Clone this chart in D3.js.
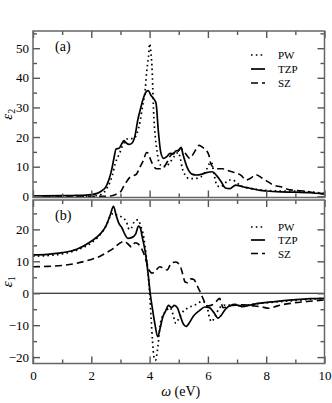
<!DOCTYPE html>
<html>
<head>
<meta charset="utf-8">
<script src="https://cdn.jsdelivr.net/npm/d3@7"></script>
<style>
  html, body { margin: 0; padding: 0; background: #fff; }
</style>
</head>
<body>
<div id="chart"></div>
<script>
// --- data: panel (a) eps2 ---
const pwA_w  = [0, 2.0, 2.3, 2.45, 2.55, 2.65, 2.72, 2.82, 2.97, 3.1, 3.25, 3.45, 3.56, 3.68, 3.75, 3.85, 3.9, 3.96, 4.0, 4.05, 4.09, 4.12, 4.15, 4.2, 4.26, 4.32, 4.45, 4.55, 4.7, 4.85, 4.98, 5.05, 5.12, 5.22, 5.35, 5.55, 5.75, 5.95, 6.05, 6.12, 6.22, 6.32, 6.45, 6.55, 6.72, 6.85, 7.0, 7.2, 7.5, 8.0, 8.5, 9.0, 9.5, 10];
const pwA_v  = [0, 0.1, 0.5, 1.5, 3, 5, 7, 11, 14.5, 17.7, 19.4, 19.5, 21, 25.6, 30, 36, 42, 47, 51.5, 48, 42, 33, 26, 19.5, 15, 11.5, 10, 10, 11.5, 13.5, 14.8, 13, 9.5, 7.2, 6, 6, 6.5, 9, 11, 11.5, 7, 3.5, 3.2, 4, 5.5, 5.5, 4.5, 3.2, 2.6, 2.0, 1.8, 1.8, 1.5, 1.0];

const tzpA_w = [0, 1, 1.5, 2.0, 2.2, 2.35, 2.5, 2.6, 2.7, 2.78, 2.85, 2.95, 3.05, 3.12, 3.2, 3.3, 3.4, 3.5, 3.6, 3.7, 3.8, 3.9, 3.95, 4.05, 4.15, 4.22, 4.3, 4.38, 4.48, 4.6, 4.7, 4.8, 4.9, 5.0, 5.08, 5.15, 5.3, 5.45, 5.6, 5.8, 5.95, 6.15, 6.3, 6.45, 6.6, 6.75, 6.95, 7.1, 7.3, 7.5, 7.8, 8.0, 8.5, 9.0, 9.5, 10];
const tzpA_v = [0.1, 0.2, 0.3, 0.6, 1.0, 1.8, 3.2, 5.5, 9, 13, 16, 16.2, 17.8, 18.8, 18, 17.5, 18, 20.5, 26, 30, 33.5, 35.5, 35.7, 34, 32.8, 31.5, 22, 15, 12.8, 13.5, 14.5, 14.3, 15.3, 15.5, 16.5, 14, 9.5, 7.5, 7.2, 7.5, 8, 8.3, 7, 5, 2.8, 2.6, 3.8, 3.5, 3.0, 2.6, 2.0, 1.8, 1.5, 1.4, 1.2, 0.8];

const szA_w  = [0, 2.5, 2.7, 2.85, 3.0, 3.1, 3.2, 3.33, 3.45, 3.55, 3.65, 3.78, 3.9, 3.95, 4.05, 4.15, 4.25, 4.38, 4.5, 4.6, 4.7, 4.8, 4.92, 5.05, 5.15, 5.28, 5.38, 5.48, 5.6, 5.7, 5.82, 5.95, 6.03, 6.1, 6.2, 6.35, 6.5, 6.65, 6.85, 7.0, 7.15, 7.3, 7.45, 7.65, 7.85, 8.0, 8.25, 8.5, 8.7, 9.0, 9.3, 9.6, 10];
const szA_v  = [0, 0, 0.2, 0.7, 1.5, 3.2, 4.8, 6.5, 7, 7.5, 9.5, 12, 14.8, 14.5, 12, 10, 9.3, 9.3, 10, 11.5, 13.5, 14.5, 14.5, 16.2, 15.5, 13.8, 12.8, 14, 16, 17.2, 16.5, 15.5, 14, 11, 9.7, 9.3, 9.3, 8.8, 8.2, 7.8, 7, 5.5, 6, 7.3, 6.2, 5.3, 3.8, 3.2, 2.5, 2.0, 1.8, 1.3, 0.8];

// --- data: panel (b) eps1 ---
const pwB_w  = [0, 0.5, 1.0, 1.5, 2.0, 2.3, 2.5, 2.65, 2.75, 2.87, 3.05, 3.2, 3.3, 3.38, 3.48, 3.6, 3.7, 3.8, 3.88, 3.94, 4.0, 4.05, 4.1, 4.15, 4.2, 4.28, 4.36, 4.45, 4.55, 4.7, 4.8, 4.9, 5.0, 5.1, 5.3, 5.55, 5.8, 5.95, 6.05, 6.12, 6.25, 6.4, 6.6, 6.9, 7.2, 7.5, 8.0, 8.5, 9.0, 9.5, 10];
const pwB_v  = [11.6, 11.8, 12.3, 13.5, 15.8, 18.3, 21, 24, 25, 24.5, 23.8, 22.5, 20, 20.5, 22.5, 23, 21, 17.5, 12, 7, 0, -7.5, -15, -20, -21, -17, -10, -7, -5.8, -4.5, -6.5, -9.4, -8, -6.3, -4.7, -3.7, -2.6, -3.5, -7.5, -8.9, -7.2, -4.5, -3.7, -3.7, -4.0, -3.5, -3.0, -2.6, -2.3, -1.9, -1.6];

const tzpB_w = [0, 0.5, 1.0, 1.5, 2.0, 2.3, 2.5, 2.65, 2.76, 2.85, 2.95, 3.05, 3.15, 3.25, 3.4, 3.52, 3.62, 3.68, 3.75, 3.85, 3.95, 4.02, 4.1, 4.18, 4.28, 4.36, 4.45, 4.55, 4.65, 4.75, 4.85, 4.95, 5.05, 5.15, 5.25, 5.38, 5.5, 5.7, 5.9, 6.05, 6.2, 6.35, 6.45, 6.6, 6.8, 7.0, 7.2, 7.4, 7.8, 8.3, 8.9, 9.5, 10];
const tzpB_v = [12.0, 12.2, 12.7, 13.8, 16.3, 18.5, 21, 24.5, 27.2, 24.5, 21.8, 20.5, 18.5, 17.2, 17.5, 18.5, 21, 20.5, 17.5, 13, 6, 0, -5, -9.5, -13.6, -11, -7.5, -5.5, -3.8, -4.5, -3.8, -4.5, -7, -9.5, -10.4, -9, -7.2, -5.5, -4.3, -4.5, -6, -7.8, -7, -5, -3.8, -3.7, -4.2, -3.8, -3.1, -2.6, -2.1, -1.7, -1.6];

const szB_w  = [0, 0.5, 1.0, 1.5, 2.0, 2.3, 2.5, 2.75, 3.0, 3.12, 3.25, 3.38, 3.5, 3.6, 3.72, 3.82, 3.92, 4.0, 4.08, 4.2, 4.35, 4.48, 4.6, 4.75, 4.9, 5.05, 5.12, 5.22, 5.3, 5.42, 5.52, 5.62, 5.73, 5.85, 5.97, 6.1, 6.25, 6.4, 6.52, 6.7, 6.9, 7.1, 7.35, 7.6, 7.8, 8.1, 8.3, 8.5, 8.9, 9.4, 10];
const szB_v  = [8.3, 8.4, 8.7, 9.4, 10.6, 11.6, 12.6, 14, 15.8, 16.3, 15.5, 14.5, 15.8, 15.5, 14, 12, 9, 7, 6.3, 7, 8.3, 7.8, 7.3, 9.5, 9.8, 8.5, 6.5, 3.5, 3.3, 4.5, 4.3, 2.6, 0.5, -2, -4, -3.8, -3, -1.6, -4.5, -4.2, -3.5, -3.6, -3.7, -4.0, -4.2, -4.7, -4.2, -3.7, -3.1, -2.6, -2.1];

const seriesNames = ["PW", "TZP", "SZ"];
const xTicksMajor = [0, 2, 4, 6, 8, 10];
const xTicksMinor = [1, 3, 5, 7, 9];
const yTicksA = [0, 10, 20, 30, 40, 50];
const yTicksAMinor = [5, 15, 25, 35, 45, 55];
const yTicksB = [-20, -10, 0, 10, 20];
const yTicksBMinor = [-15, -5, 5, 15, 25];

// --- setup ---
const W = 332, H = 403;
const left = 33, right = 324.5;
const serif = "'Liberation Serif', 'Times New Roman', Times, 'DejaVu Serif', serif";

const svg = d3.select("#chart").append("svg")
    .attr("width", W).attr("height", H)
    .style("font-family", serif);
svg.append("rect").attr("width", W).attr("height", H).attr("fill", "#fff");

const x = d3.scaleLinear().domain([0, 10]).range([left, right]);

const styles = {
    PW:  { dash: "1.6 3.2", width: 1.7 },
    TZP: { dash: null, width: 1.7 },
    SZ:  { dash: "7 4", width: 1.6 }
};

const zip = (ws, vs) => ws.map((w, i) => ({ w: w, v: vs[i] }));

function drawPanel(opts) {
    const y = d3.scaleLinear().domain(opts.domain).range([opts.bottom, opts.top]);
    const g = svg.append("g");

    g.append("clipPath").attr("id", "clip-" + opts.id)
        .append("rect")
        .attr("x", left).attr("y", opts.top)
        .attr("width", right - left).attr("height", opts.bottom - opts.top);

    if (opts.zeroLine) {
        g.append("line")
            .attr("x1", left).attr("x2", right)
            .attr("y1", y(0)).attr("y2", y(0))
            .attr("stroke", "#000").attr("stroke-width", 1);
    }

    const line = d3.line()
        .curve(d3.curveMonotoneX)
        .x(d => x(d.w))
        .y(d => y(d.v));

    opts.series.forEach((s, i) => {
        const st = styles[seriesNames[i]];
        g.append("path")
            .attr("clip-path", `url(#clip-${opts.id})`)
            .attr("d", line(s))
            .attr("fill", "none")
            .attr("stroke", "#000")
            .attr("stroke-width", st.width)
            .attr("stroke-dasharray", st.dash);
    });

    // axes with inward ticks
    const tickColor = "#555";
    function addAxis(axis, tx, ty) {
        const a = g.append("g").attr("transform", `translate(${tx},${ty})`).call(axis);
        a.select(".domain").remove();
        a.attr("font-family", serif).attr("font-size", 13);
        a.selectAll(".tick line").attr("stroke", tickColor).attr("stroke-width", 1.4);
        a.selectAll("text").style("font-family", serif).attr("font-size", 13);
        return a;
    }
    const fmt = d3.format("d");
    addAxis(d3.axisBottom(x).tickValues(xTicksMajor).tickSize(-7)
        .tickFormat(opts.xLabels ? fmt : ""), 0, opts.bottom)
        .selectAll("text").attr("dy", "1.0em");
    addAxis(d3.axisBottom(x).tickValues(xTicksMinor).tickSize(-4).tickFormat(""), 0, opts.bottom);
    addAxis(d3.axisTop(x).tickValues(xTicksMajor).tickSize(-7).tickFormat(""), 0, opts.top);
    addAxis(d3.axisTop(x).tickValues(xTicksMinor).tickSize(-4).tickFormat(""), 0, opts.top);
    addAxis(d3.axisLeft(y).tickValues(opts.yTicks).tickSize(-7).tickPadding(4).tickFormat(fmt), left, 0);
    addAxis(d3.axisLeft(y).tickValues(opts.yMinor).tickSize(-4).tickFormat(""), left, 0);
    addAxis(d3.axisRight(y).tickValues(opts.yTicks).tickSize(-7).tickFormat(""), right, 0);
    addAxis(d3.axisRight(y).tickValues(opts.yMinor).tickSize(-4).tickFormat(""), right, 0);

    g.append("rect")
        .attr("x", left).attr("y", opts.top)
        .attr("width", right - left).attr("height", opts.bottom - opts.top)
        .attr("fill", "none").attr("stroke", "#666").attr("stroke-width", 1.5);

    // panel tag
    g.append("text")
        .attr("x", 55).attr("y", opts.top + 20)
        .attr("font-size", 14)
        .text(opts.tag);

    // y label, rotated
    const yl = g.append("text")
        .attr("transform", `translate(12,${(opts.top + opts.bottom) / 2}) rotate(-90)`)
        .attr("text-anchor", "middle")
        .attr("font-size", 15);
    yl.append("tspan").attr("font-style", "italic").text("\u03b5");
    yl.append("tspan").attr("font-size", 10).attr("dy", 3).text(opts.sub);

    // legend
    opts.legendY.forEach((ly, i) => {
        const st = styles[seriesNames[i]];
        g.append("line")
            .attr("x1", 251).attr("x2", 265)
            .attr("y1", ly).attr("y2", ly)
            .attr("stroke", "#000")
            .attr("stroke-width", st.width)
            .attr("stroke-dasharray", st.dash);
        g.append("text")
            .attr("x", 278).attr("y", ly + 4)
            .attr("font-size", 11)
            .text(seriesNames[i]);
    });
}

drawPanel({
    id: "a", top: 31, bottom: 197.5, domain: [-0.4, 55.8],
    yTicks: yTicksA, yMinor: yTicksAMinor, xLabels: false,
    series: [zip(pwA_w, pwA_v), zip(tzpA_w, tzpA_v), zip(szA_w, szA_v)],
    tag: "(a)", sub: "2", legendY: [55, 69, 83]
});

drawPanel({
    id: "b", top: 200, bottom: 363.5, domain: [-22, 29.2],
    yTicks: yTicksB, yMinor: yTicksBMinor, xLabels: true, zeroLine: true,
    series: [zip(pwB_w, pwB_v), zip(tzpB_w, tzpB_v), zip(szB_w, szB_v)],
    tag: "(b)", sub: "1", legendY: [227, 240, 253.5]
});

// x axis label
const xl = svg.append("text")
    .attr("x", (left + right) / 2 + 2).attr("y", 396)
    .attr("text-anchor", "middle")
    .attr("font-size", 14);
xl.append("tspan").attr("font-style", "italic").text("\u03c9");
xl.append("tspan").text(" (eV)");
</script>
</body>
</html>
